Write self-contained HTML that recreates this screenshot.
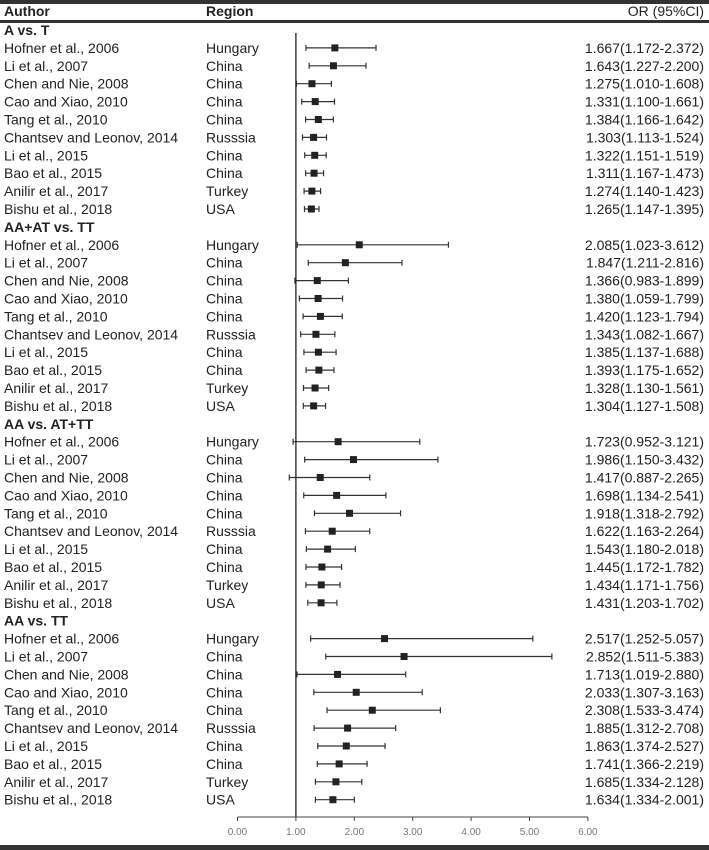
<!DOCTYPE html>
<html><head><meta charset="utf-8"><style>
body{margin:0;background:#fff;}
svg{display:block;font-family:"Liberation Sans",Arial,sans-serif;}
</style></head><body>
<svg id="chart" width="709" height="850" viewBox="0 0 709 850">
<rect x="0" y="0" width="709" height="4" fill="#333"/>
<text x="4" y="16" font-size="14" font-weight="bold" fill="#222">Author</text>
<text x="206" y="16" font-size="14" font-weight="bold" fill="#222">Region</text>
<text x="704" y="16" font-size="14" text-anchor="end" fill="#222">OR (95%CI)</text>
<rect x="0" y="20" width="709" height="3" fill="#333"/>
<rect x="0" y="845" width="709" height="5" fill="#333"/>
<g id="rows"></g>
</svg>
<script>
const groups = ["A vs. T","AA+AT vs. TT","AA vs. AT+TT","AA vs. TT"];
const authors = ["Hofner et al., 2006","Li et al., 2007","Chen and Nie, 2008","Cao and Xiao, 2010","Tang et al., 2010","Chantsev and Leonov, 2014","Li et al., 2015","Bao et al., 2015","Anilir et al., 2017","Bishu et al., 2018"];
const regions = ["Hungary","China","China","China","China","Russsia","China","China","Turkey","USA"];
const orVals = [
 [1.667,1.643,1.275,1.331,1.384,1.303,1.322,1.311,1.274,1.265],
 [2.085,1.847,1.366,1.380,1.420,1.343,1.385,1.393,1.328,1.304],
 [1.723,1.986,1.417,1.698,1.918,1.622,1.543,1.445,1.434,1.431],
 [2.517,2.852,1.713,2.033,2.308,1.885,1.863,1.741,1.685,1.634]];
const lowVals = [
 [1.172,1.227,1.010,1.100,1.166,1.113,1.151,1.167,1.140,1.147],
 [1.023,1.211,0.983,1.059,1.123,1.082,1.137,1.175,1.130,1.127],
 [0.952,1.150,0.887,1.134,1.318,1.163,1.180,1.172,1.171,1.203],
 [1.252,1.511,1.019,1.307,1.533,1.312,1.374,1.366,1.334,1.334]];
const highVals = [
 [2.372,2.200,1.608,1.661,1.642,1.524,1.519,1.473,1.423,1.395],
 [3.612,2.816,1.899,1.799,1.794,1.667,1.688,1.652,1.561,1.508],
 [3.121,3.432,2.265,2.541,2.792,2.264,2.018,1.782,1.756,1.702],
 [5.057,5.383,2.880,3.163,3.474,2.708,2.527,2.219,2.128,2.001]];
const ticks = [0,1,2,3,4,5,6];

const NS="http://www.w3.org/2000/svg";
const g=document.getElementById('rows');
const xs=v=>237.5+v*58.4;
const ys=i=>30+i*17.9;
function mk(t,a){const e=document.createElementNS(NS,t);for(const k in a)e.setAttribute(k,a[k]);g.appendChild(e);return e;}
function txt(s,x,y,opt){const e=mk('text',Object.assign({x:x,y:y+5,'font-size':14,fill:'#222'},opt||{}));e.textContent=s;return e;}
const f=v=>v.toFixed(3);
let r=0;
groups.forEach((gn,gi)=>{
  const h=txt(gn,4,ys(r),{'font-weight':'bold'});
  
  
  r++;
  authors.forEach((a,i)=>{
    const y=ys(r);
    const t1=txt(a,4,y);
    
    
    const t2=txt(regions[i],206,y);
    
    
    const t3=txt(f(orVals[gi][i])+'('+f(lowVals[gi][i])+'-'+f(highVals[gi][i])+')',704,y,{'text-anchor':'end'});
    
    
    const x1=xs(lowVals[gi][i]),x2=xs(highVals[gi][i]);
    const l=mk('path',{d:`M${x1} ${y}H${x2}M${x1} ${y-3}V${y+3}M${x2} ${y-3}V${y+3}`,stroke:'#333','stroke-width':1.2,fill:'none'});
    
    
    const s=mk('rect',{x:xs(orVals[gi][i])-3.5,y:y-3.5,width:7,height:7,fill:'#222'});
    
    
    r++;
  });
});
const ref=mk('line',{x1:xs(1),x2:xs(1),y1:33,y2:817,stroke:'#222','stroke-width':1.3});


const ax=mk('line',{x1:xs(0),x2:xs(6),y1:817,y2:817,stroke:'#444','stroke-width':1});


ticks.forEach(t=>{
  const tk=mk('line',{x1:xs(t),x2:xs(t),y1:817,y2:821,stroke:'#444'});
  
  
  const tl=mk('text',{x:xs(t),y:835,'font-size':10,'text-anchor':'middle',fill:'#777'});
  tl.textContent=t.toFixed(2);
  
  
});
</script>
</body></html>
